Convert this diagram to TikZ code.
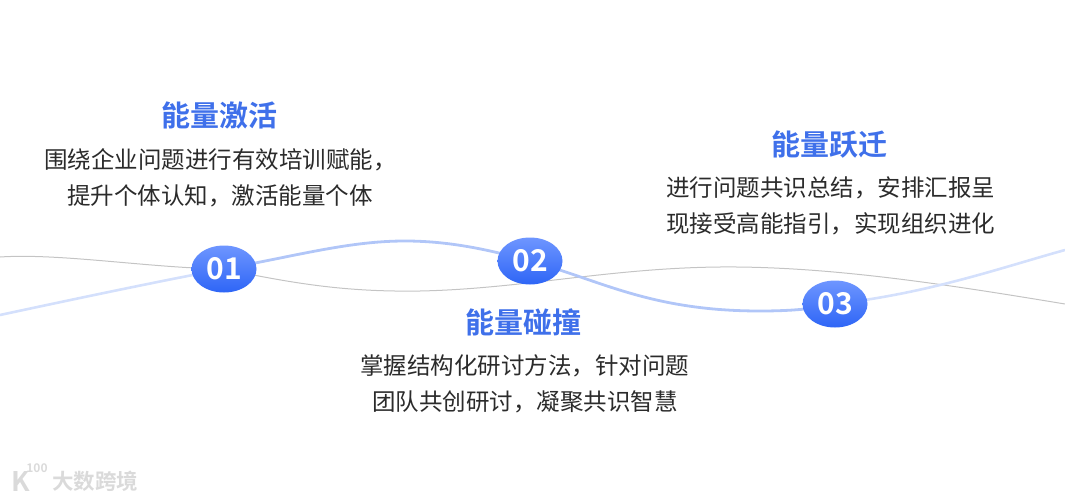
\documentclass[tikz,border=0pt]{standalone}
\usepackage{fontspec}
\setmainfont{Open Sans}
\newfontfamily\numf{Noto Sans CJK SC Bold}
\newfontfamily\cjk{Noto Sans CJK SC}
\newfontfamily\cjkb{Noto Sans CJK SC Bold}
\definecolor{bluetitle}{HTML}{3F70EA}
\definecolor{bodytxt}{HTML}{2B2B2B}
\definecolor{palecurve}{HTML}{D4E0FC}
\definecolor{midcurve}{HTML}{B1C6F8}
\definecolor{graycurve}{HTML}{C4C4C4}
\definecolor{marktxt}{HTML}{DADADA}
\definecolor{badgetop}{HTML}{6E96FF}
\definecolor{badgebot}{HTML}{2E65F6}
\usetikzlibrary{shapes.geometric}
\tikzset{
  titletext/.style={inner sep=0pt,text=bluetitle,font=\cjkb\fontsize{29}{32}\selectfont},
  bodytext/.style={inner sep=0pt,text=bodytxt,anchor=west,font=\cjk\fontsize{23.5}{26}\selectfont},
  badge/.style={ellipse,minimum width=65pt,minimum height=47pt,inner sep=0pt,top color=badgetop,bottom color=badgebot,text=white,font=\numf\fontsize{30}{31}\selectfont},
  palewave/.style={line width=2.6pt,palecurve},
  midwave/.style={line width=2.8pt,midcurve},
  graywave/.style={line width=1pt,graycurve},
}
\begin{document}
\begin{tikzpicture}[x=1pt,y=-1pt]
\useasboundingbox (0,0) rectangle (1065,500);
\coordinate (gs) at (0,257);
\coordinate (ge) at (1065,304);
\coordinate (bs) at (0,315);
\coordinate (be) at (1065,250);
\coordinate (n1) at (224,269);
\coordinate (n2) at (530,261);
\coordinate (n3) at (835,304);
\draw[graywave] (gs) .. controls (60,253) and (150,268) .. (n1)
  .. controls (300,285) and (350,292) .. (420,291)
  .. controls (520,289) and (610,268) .. (720,267)
  .. controls (830,266) and (950,285) .. (ge);
\draw[palewave] (bs) .. controls (70,300) and (150,283) .. (n1);
\draw[midwave] (n1) .. controls (300,255) and (350,241) .. (405,241)
  .. controls (450,241) and (490,250) .. (n2);
\draw[midwave] (n2) .. controls (600,280) and (650,311) .. (760,311)
  .. controls (790,311) and (815,309) .. (n3);
\draw[palewave] (n3) .. controls (930,293) and (1000,268) .. (be);
\node[badge] (b1) at (n1) {01};
\node[badge] (b2) at (n2) {02};
\node[badge] (b3) at (n3) {03};
\node[titletext] (t1) at (219.5,115.5) {能量激活};
\node[bodytext] (a1) at (44,160) {围绕企业问题进行有效培训赋能，};
\node[bodytext] (a2) at (67,196) {提升个体认知，激活能量个体};
\node[titletext] (t2) at (523.5,322.5) {能量碰撞};
\node[bodytext] (b1a) at (360,366) {掌握结构化研讨方法，针对问题};
\node[bodytext] (b2a) at (372,402) {团队共创研讨，凝聚共识智慧};
\node[titletext] (t3) at (829,144.5) {能量跃迁};
\node[bodytext] (c1) at (666,188) {进行问题共识总结，安排汇报呈};
\node[bodytext] (c2) at (666,224) {现接受高能指引，实现组织进化};
\node[inner sep=0pt,anchor=west,text=marktxt,font=\cjkb\fontsize{21.5}{24}\selectfont] (wm) at (52,481) {大数跨境};
\node[inner sep=0pt,text=marktxt,font=\cjkb\fontsize{27}{28}\selectfont] (wk) at (21,481) {K};
\node[inner sep=0pt,text=marktxt,font=\cjkb\fontsize{12}{13}\selectfont] (wn) at (37,468) {100};
\end{tikzpicture}
\end{document}
